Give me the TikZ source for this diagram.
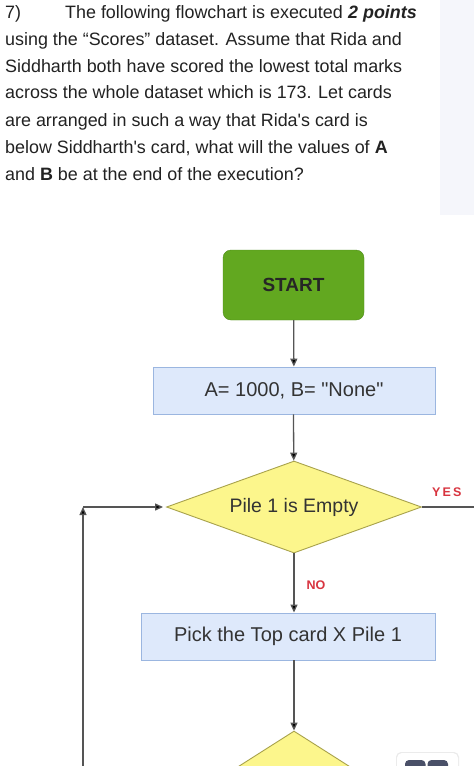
\documentclass[tikz,border=0pt]{standalone}
\usepackage{fontspec}
\setmainfont{Liberation Sans}
\usetikzlibrary{arrows.meta,shapes.geometric}
\definecolor{txtc}{HTML}{222222}
\definecolor{greenfill}{HTML}{62A820}
\definecolor{greenline}{HTML}{4E8C1A}
\definecolor{bluefill}{HTML}{DEE9FB}
\definecolor{blueline}{HTML}{9BB6E0}
\definecolor{yelfill}{HTML}{FCF68C}
\definecolor{yelline}{HTML}{A8A24C}
\definecolor{redlab}{HTML}{D8343F}
\definecolor{linec}{HTML}{555555}
\definecolor{stripc}{HTML}{F5F6FB}
\definecolor{widgetc}{HTML}{4A5068}
\tikzset{
  qtext/.style={anchor=base west,inner sep=0pt,text=txtc,font=\fontsize{17.9}{20}\selectfont},
  startbox/.style={draw=greenline,fill=greenfill,rounded corners=8pt,minimum width=141pt,minimum height=70pt,inner sep=0pt,font=\fontsize{19}{22}\selectfont\bfseries,text=black!85},
  procbox/.style={draw=blueline,fill=bluefill,line width=0.9pt,minimum height=47pt,inner sep=0pt,font=\fontsize{20}{24}\selectfont,text=black!80},
  decision/.style={diamond,draw=yelline,fill=yelfill,line width=0.9pt,inner sep=0pt,font=\fontsize{19.5}{24}\selectfont,text=black!80},
  lab/.style={font=\fontsize{12.5}{14}\selectfont\bfseries,text=redlab,inner sep=0pt},
  conn/.style={draw=linec,line width=1.3pt},
  arr/.style={conn,-{Triangle[length=8pt,width=7pt,fill=black]}},
}
\begin{document}
\begin{tikzpicture}[x=1pt,y=-1pt]
\useasboundingbox (0,0) rectangle (474,766);
\clip (0,0) rectangle (474,766);
\fill[white] (0,0) rectangle (474,766);
\fill[stripc] (440,0) rectangle (474,215);
% question text
\node[qtext] (q0) at (5,18) {7)};
\node[qtext] (q1) at (65,18) {The following flowchart is executed};
\node[qtext,font=\fontsize{17.9}{20}\selectfont\bfseries\itshape] (q1b) at (348,18) {2 points};
\node[qtext] (q2) at (5,45) {using the “Scores” dataset. Assume that Rida and};
\node[qtext] (q3) at (5,72) {Siddharth both have scored the lowest total marks};
\node[qtext] (q4) at (5,98) {across the whole dataset which is 173. Let cards};
\node[qtext] (q5) at (5,126) {are arranged in such a way that Rida\textquotesingle s card is};
\node[qtext] (q6) at (5,153) {below Siddharth\textquotesingle s card, what will the values of \textbf{A}};
\node[qtext] (q7) at (5,180) {and \textbf{B} be at the end of the execution?};
% flowchart
\node[startbox] (start) at (293.5,285) {START};
\node[procbox,minimum width=282pt] (init) at (294,390.5) {A= 1000, B= \textquotedbl None\textquotedbl};
\node[decision,aspect=2.77,minimum width=255pt,minimum height=92pt] (d1) at (294,507) {Pile 1 is Empty};
\node[procbox,minimum width=294pt] (pick) at (288,636.5) {Pick the Top card X Pile 1};
\node[decision,aspect=1.57,minimum width=157pt,minimum height=100pt] (d2) at (294,781) {};
\coordinate (yesend) at (474,507);
\coordinate (loopbot) at (83,770);
\coordinate (loopcorner) at (83,507);
\draw[arr] (start) -- (init);
\draw[arr] (init.south -| start.south) -- (d1);
\draw[arr] (d1.south) -- node[lab,anchor=west,xshift=12pt,yshift=-2pt] (nolab) {NO} (d1.south |- pick.north);
\draw[arr] (d2.north |- pick.south) -- (d2.north);
\draw[conn] (d1.east) -- (yesend);
\node[lab,anchor=base west] (yeslab) at (432,496) {Y\,E\,S};
\draw[arr] (loopbot) -- (loopcorner);
\draw[arr,shorten >=3pt] (loopcorner) -- (d1.west);
% bottom-right widget
\fill[black!8,rounded corners=5pt] (396,752) rectangle (459,775);
\fill[white,rounded corners=5pt] (397,753) rectangle (458,775);
\fill[widgetc,rounded corners=4pt] (405,760) rectangle (425.5,775);
\fill[widgetc,rounded corners=4pt] (427.5,760) rectangle (448,775);
\end{tikzpicture}
\end{document}
